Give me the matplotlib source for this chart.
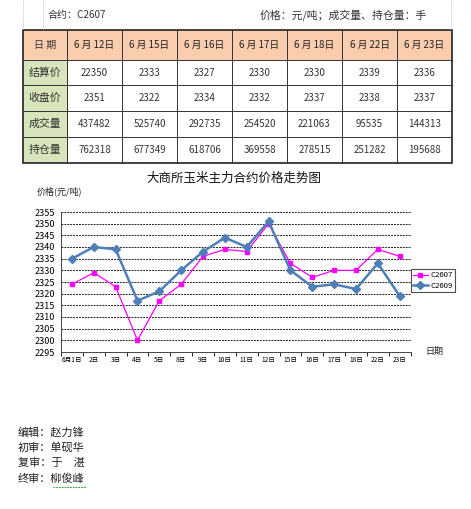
import numpy as np
import matplotlib
matplotlib.use('Agg')
import matplotlib.pyplot as plt
from matplotlib.patches import Rectangle

plt.rcParams['font.family'] = ['Noto Sans CJK SC', 'DejaVu Sans']

# table data
col_dates = ['6 月 12日', '6 月 15日', '6 月 16日', '6 月 17日', '6 月 18日', '6 月 22日', '6 月 23日']
row_names = ['结算价', '收盘价', '成交量', '持仓量']
settle = ['22350', '2333', '2327', '2330', '2330', '2339', '2336']
close = ['2351', '2322', '2334', '2332', '2337', '2338', '2337']
volume = ['437482', '525740', '292735', '254520', '221063', '95535', '144313']
open_int = ['762318', '677349', '618706', '369558', '278515', '251282', '195688']

# chart data
days = ['6月1日', '2日', '3日', '4日', '5日', '8日', '9日', '10日', '11日', '12日',
        '15日', '16日', '17日', '18日', '22日', '23日']
c2607 = [2324, 2329, 2323, 2300, 2317, 2324, 2336, 2339, 2338, 2350,
         2333, 2327, 2330, 2330, 2339, 2336]
c2609 = [2335, 2340, 2339, 2317, 2321, 2330, 2338, 2344, 2340, 2351,
         2330, 2323, 2324, 2322, 2333, 2319]

W, H = 471, 509
fig = plt.figure(figsize=(W / 100, H / 100), dpi=100)

# overlay in pixel coords for table and text
bg = fig.add_axes([0, 0, 1, 1])
bg.set_xlim(0, W)
bg.set_ylim(H, 0)
bg.axis('off')

bg.plot([23, 23], [0, 30], color='#bbbbbb', lw=0.6, ls=(0, (1, 1)))
bg.plot([43, 43], [0, 30], color='#bbbbbb', lw=0.6, ls=(0, (1, 1)))
bg.plot([451, 451], [0, 30], color='#bbbbbb', lw=0.6, ls=(0, (1, 1)))
bg.text(48, 15, '合约：C2607', fontsize=7.2, color='#333333', va='center')
bg.text(260, 15, '价格：元/吨；成交量、持仓量：手', fontsize=7.8, color='#333333', va='center')

xs = [23, 67, 122, 177, 232, 287, 342, 397, 452]
ys = [30, 60, 85, 111, 137, 163]
peach = '#F9CDAD'
green = '#D8E4BC'

bg.add_patch(Rectangle((xs[0], ys[0]), xs[-1] - xs[0], ys[1] - ys[0], fc=peach, ec='none'))
bg.add_patch(Rectangle((xs[0], ys[1]), xs[1] - xs[0], ys[-1] - ys[1], fc=green, ec='none'))
for x in xs[1:-1]:
    bg.plot([x, x], [ys[0], ys[-1]], color='#333333', lw=0.7)
for y in ys[1:-1]:
    bg.plot([xs[0], xs[-1]], [y, y], color='#333333', lw=0.7)
bg.add_patch(Rectangle((xs[0], ys[0]), xs[-1] - xs[0], ys[-1] - ys[0], fc='none', ec='#222222', lw=1.2))

bg.text((xs[0] + xs[1]) / 2, (ys[0] + ys[1]) / 2, '日 期', fontsize=7.2, ha='center', va='center', color='#333333')
for i, d in enumerate(col_dates):
    bg.text((xs[i + 1] + xs[i + 2]) / 2, (ys[0] + ys[1]) / 2, d, fontsize=7, ha='center', va='center',
            color='#222222', fontweight='medium')
rows = [settle, close, volume, open_int]
for r, (name, vals) in enumerate(zip(row_names, rows)):
    yc = (ys[r + 1] + ys[r + 2]) / 2
    bg.text((xs[0] + xs[1]) / 2, yc, name, fontsize=7.8, ha='center', va='center', color='#333333')
    for i, v in enumerate(vals):
        bg.text((xs[i + 1] + xs[i + 2]) / 2, yc, v, fontsize=7, ha='center', va='center', color='#333333')

# chart
bg.text(234, 178, '大商所玉米主力合约价格走势图', fontsize=9, ha='center', va='center', color='#111111')
bg.text(37, 191, '价格(元/吨)', fontsize=6.5, ha='left', va='center', color='#222222')
bg.text(425, 351, '日期', fontsize=6.5, ha='left', va='center', color='#222222')

left, right, top, bottom = 61, 410.6, 212, 352
ax = fig.add_axes([left / W, 1 - bottom / H, (right - left) / W, (bottom - top) / H])
x = np.arange(len(days))
ax.plot(x, c2607, color='#FF00FF', lw=0.9, marker='s', ms=3.5, label='C2607', zorder=3)
ax.plot(x, c2609, color='#4F7FB8', lw=1.8, marker='D', ms=3.8, label='C2609', zorder=4)
ax.set_xlim(-0.5, len(days) - 0.5)
ax.set_ylim(2295, 2355)
ax.set_yticks(np.arange(2295, 2356, 5))
ax.set_yticklabels([str(v) for v in range(2295, 2356, 5)], fontsize=6.5)
ax.set_xticks(x)
ax.set_xticklabels(days, fontsize=4.8)
ax.set_xticks(np.arange(-0.5, len(days), 1), minor=True)
ax.tick_params(axis='x', which='major', length=0, pad=3)
ax.tick_params(axis='x', which='minor', length=3, direction='out', width=0.6)
ax.tick_params(axis='y', length=0, pad=4)
for v in range(2300, 2356, 5):
    ax.axhline(v, color='#222222', lw=0.7, ls=(0, (2, 1)), zorder=1)
ax.spines['top'].set_visible(False)
ax.spines['right'].set_visible(False)
ax.spines['left'].set_color('#444444')
ax.spines['bottom'].set_color('#444444')
ax.spines['left'].set_linewidth(0.7)
ax.spines['bottom'].set_linewidth(0.7)
ax.set_facecolor('none')
leg = ax.legend(loc='center left', bbox_to_anchor=(1.0, 0.51), fontsize=5.6, frameon=True,
                fancybox=False, edgecolor='#222222', handlelength=1.9, borderpad=0.3,
                labelspacing=0.3, handletextpad=0.3, borderaxespad=0)
leg.get_frame().set_linewidth(0.8)

# credits
credits = ['编辑：赵力锋', '初审：单砚华', '复审：于　湛', '终审：柳俊峰']
for i, c in enumerate(credits):
    bg.text(18, 432 + i * 15.5, c, fontsize=8, ha='left', va='center', color='#222222')
bg.plot([53, 86], [487, 487], color='#2ca02c', lw=0.8, ls=(0, (1.5, 1)))

fig.savefig('out.png', dpi=100)
